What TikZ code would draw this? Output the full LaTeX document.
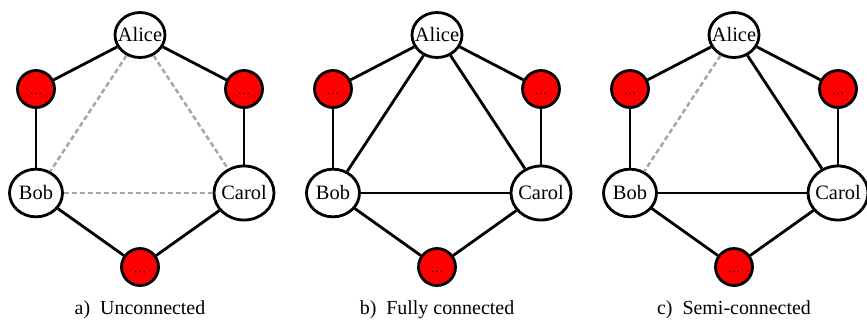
\documentclass[tikz,border=0pt]{standalone}
\usepackage{fontspec}
\setmainfont{Liberation Serif}
\usetikzlibrary{positioning,shapes.geometric}

\tikzset{
  peer/.style={ellipse, draw, fill=white, line width=2.8bp, inner xsep=-8bp, inner ysep=0pt,
    minimum width=#1, minimum height={0.9*#1}, font=\fontsize{20.5}{24}\selectfont},
  peer/.default=50bp,
  relay/.style={circle, draw, fill=red, line width=2.8bp, minimum size=37bp, inner sep=0pt,
    text height=10bp, text depth=0pt, font=\fontsize{13}{14}\selectfont},
  link/.style={line width=2.8bp},
  nolink/.style={line width=2.5bp, black!35, dash pattern=on 5bp off 3bp},
  caption/.style={font=\fontsize{20}{24}\selectfont}
}

\begin{document}
\begin{tikzpicture}[x=1bp,y=-1bp,node distance=104bp,on grid]
            \useasboundingbox (0,0) rectangle (867,325);

            % a) unconnected
            \node[peer] (alice_a) at (140,35) {Alice};
            \node[relay] (m_a_1) [below left=54bp and 104bp of alice_a] {\ldots};
            \node[relay] (m_a_2) [below right=54bp and 104bp of alice_a] {\ldots};
            \node[peer=53bp] (bob_a) [below=of m_a_1] {Bob};
            \node[peer=60bp] (carol_a) [below=of m_a_2] {Carol};
            \node[relay] (m_a_3) [below right=74bp and 104bp of bob_a] {\ldots};
            \node[caption] (cap_a) [below=43bp of m_a_3] {a)\enspace Unconnected};

            % b) fully connected
            \node[peer] (alice_b) at (437,35) {Alice};
            \node[relay] (m_b_1) [below left=54bp and 104bp of alice_b] {\ldots};
            \node[relay] (m_b_2) [below right=54bp and 104bp of alice_b] {\ldots};
            \node[peer=53bp] (bob_b) [below=of m_b_1] {Bob};
            \node[peer=60bp] (carol_b) [below=of m_b_2] {Carol};
            \node[relay] (m_b_3) [below right=74bp and 104bp of bob_b] {\ldots};
            \node[caption] (cap_b) [below=43bp of m_b_3] {b)\enspace Fully connected};

            % c) semi-connected
            \node[peer] (alice_c) at (734,35) {Alice};
            \node[relay] (m_c_1) [below left=54bp and 104bp of alice_c] {\ldots};
            \node[relay] (m_c_2) [below right=54bp and 104bp of alice_c] {\ldots};
            \node[peer=53bp] (bob_c) [below=of m_c_1] {Bob};
            \node[peer=60bp] (carol_c) [below=of m_c_2] {Carol};
            \node[relay] (m_c_3) [below right=74bp and 104bp of bob_c] {\ldots};
            \node[caption] (cap_c) [below=43bp of m_c_3] {c)\enspace Semi-connected};

            \path[link]
                (alice_a)
                    edge (m_a_1)
                    edge (m_a_2)
                (bob_a)
                    edge (m_a_1)
                    edge (m_a_3)
                (carol_a)
                    edge (m_a_2)
                    edge (m_a_3)
                (alice_b)
                    edge (m_b_1)
                    edge (m_b_2)
                    edge (bob_b)
                    edge (carol_b)
                (bob_b)
                    edge (m_b_1)
                    edge (m_b_3)
                    edge (carol_b)
                (carol_b)
                    edge (m_b_2)
                    edge (m_b_3)
                (alice_c)
                    edge (m_c_1)
                    edge (m_c_2)
                    edge (carol_c)
                (bob_c)
                    edge (m_c_1)
                    edge (m_c_3)
                    edge (carol_c)
                (carol_c)
                    edge (m_c_2)
                    edge (m_c_3);

            \path[nolink]
                (alice_a)
                    edge (bob_a)
                    edge (carol_a)
                (bob_a)
                    edge (carol_a)
                (alice_c)
                    edge (bob_c);
        \end{tikzpicture}
\end{document}
